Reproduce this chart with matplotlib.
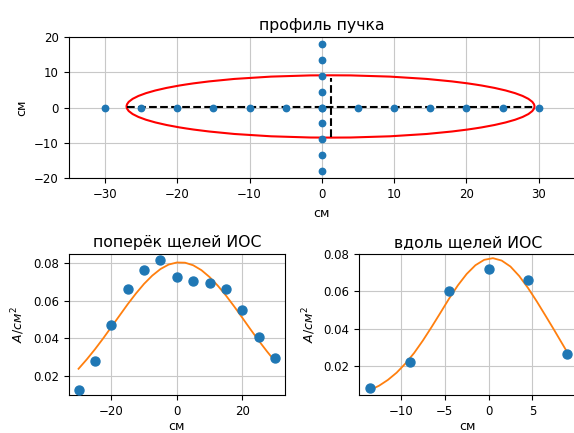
import numpy as np
import matplotlib
matplotlib.use("Agg")
import matplotlib.pyplot as plt
from matplotlib.patches import Ellipse

# --- data: beam profile (top) ---
grid_x = [-30, -25, -20, -15, -10, -5, 0, 5, 10, 15, 20, 25, 30]
grid_y = [-18, -13.5, -9, -4.5, 0, 4.5, 9, 13.5, 18]
ell_center = (1.2, 0.3)
ell_width = 56.4
ell_height = 17.6
hline_x = [-26.9, 29.5]
hline_y = [0.2, 0.2]
vline_x = [1.3, 1.3]
vline_y = [-8.3, 8.4]

# --- data: across slits (bottom left) ---
across_x = [-30, -25, -20, -15, -10, -5, 0, 5, 10, 15, 20, 25, 30]
across_y = [0.0125, 0.0275, 0.0469, 0.0660, 0.0764, 0.0816, 0.0725,
            0.0705, 0.0697, 0.0660, 0.0550, 0.0406, 0.0295]
across_fit_x = [-30, -27.5, -25, -22.5, -20, -17.5, -15, -12.5, -10, -7.5, -5,
                -2.5, 0, 2.5, 5, 7.5, 10, 12.5, 15, 17.5, 20, 22.5, 25, 27.5, 30]
across_fit_y = [0.0236, 0.0286, 0.0340, 0.0398, 0.0459, 0.0520, 0.0581,
                0.0638, 0.0690, 0.0734, 0.0769, 0.0793, 0.0804, 0.0803,
                0.0789, 0.0763, 0.0726, 0.0680, 0.0627, 0.0569, 0.0508,
                0.0446, 0.0386, 0.0329, 0.0275]

# --- data: along slits (bottom right) ---
along_x = [-13.5, -9, -4.5, 0, 4.5, 9]
along_y = [0.0079, 0.0220, 0.0600, 0.0719, 0.0661, 0.0262]
along_fit_x = [-13.5, -12.5, -11.5, -10.5, -9.5, -8.5, -7.5, -6.5, -5.5, -4.5,
               -3.5, -2.5, -1.5, -0.5, 0.5, 1.5, 2.5, 3.5, 4.5, 5.5, 6.5,
               7.5, 8.5, 9.0]
along_fit_y = [0.0070, 0.0093, 0.0124, 0.0163, 0.0212, 0.0269, 0.0336,
               0.0409, 0.0485, 0.0562, 0.0633, 0.0694, 0.0741, 0.0770,
               0.0779, 0.0766, 0.0734, 0.0683, 0.0619, 0.0547, 0.0470,
               0.0392, 0.0312, 0.0272]

blue = '#1f77b4'
orange = '#ff7f0e'
TICK = 8.5
LAB = 9
TTL = 11.3

fig = plt.figure(figsize=(5.74, 4.33), dpi=100)

ax1 = fig.add_axes([0.1197, 0.5882, 0.882, 0.327])
ax1.plot(grid_x, [0] * len(grid_x), 'o', color=blue, ms=4.6, zorder=3)
ax1.plot([0] * len(grid_y), grid_y, 'o', color=blue, ms=4.6, zorder=3)
ax1.add_patch(Ellipse(ell_center, ell_width, ell_height, fill=False,
                      edgecolor='red', lw=1.5, zorder=2))
ax1.plot(hline_x, hline_y, '--', color='black', lw=1.5, zorder=2)
ax1.plot(vline_x, vline_y, '--', color='black', lw=1.5, zorder=2)
ax1.set_xlim(-35, 35)
ax1.set_ylim(-20, 20)
ax1.set_xticks([-30, -20, -10, 0, 10, 20, 30])
ax1.set_yticks([-20, -10, 0, 10, 20])
ax1.grid(True, color='#c8c8c8', lw=0.8)
ax1.set_axisbelow(True)
ax1.set_title('профиль пучка', fontsize=TTL, pad=5)
ax1.set_xlabel('см', fontsize=LAB)
ax1.set_ylabel('см', fontsize=LAB)
ax1.tick_params(labelsize=TICK)

ax2 = fig.add_axes([0.1197, 0.0878, 0.3768, 0.325])
ax2.scatter(across_x, across_y, s=42, color=blue, zorder=3)
ax2.plot(across_fit_x, across_fit_y, color=orange, lw=1.3, zorder=2)
ax2.set_xlim(-33, 33)
ax2.set_ylim(0.0096, 0.0848)
ax2.set_xticks([-20, 0, 20])
ax2.set_yticks([0.02, 0.04, 0.06, 0.08])
ax2.grid(True, color='#c8c8c8', lw=0.8)
ax2.set_axisbelow(True)
ax2.set_title('поперёк щелей ИОС', fontsize=TTL, pad=5)
ax2.set_xlabel('см', fontsize=LAB, labelpad=1.5)
ax2.set_ylabel(r'$A/см^2$', fontsize=LAB)
ax2.tick_params(labelsize=TICK)

ax3 = fig.add_axes([0.6254, 0.0878, 0.3798, 0.325])
ax3.scatter(along_x, along_y, s=42, color=blue, zorder=3)
ax3.plot(along_fit_x, along_fit_y, color=orange, lw=1.3, zorder=2)
ax3.set_xlim(-14.8, 10.1)
ax3.set_ylim(0.0043, 0.080)
ax3.set_xticks([-10, -5, 0, 5])
ax3.set_yticks([0.02, 0.04, 0.06, 0.08])
ax3.grid(True, color='#c8c8c8', lw=0.8)
ax3.set_axisbelow(True)
ax3.set_title('вдоль щелей ИОС', fontsize=TTL, pad=5)
ax3.set_xlabel('см', fontsize=LAB, labelpad=1.5)
ax3.set_ylabel(r'$A/см^2$', fontsize=LAB)
ax3.tick_params(labelsize=TICK)

fig.savefig('out.png', dpi=100)
